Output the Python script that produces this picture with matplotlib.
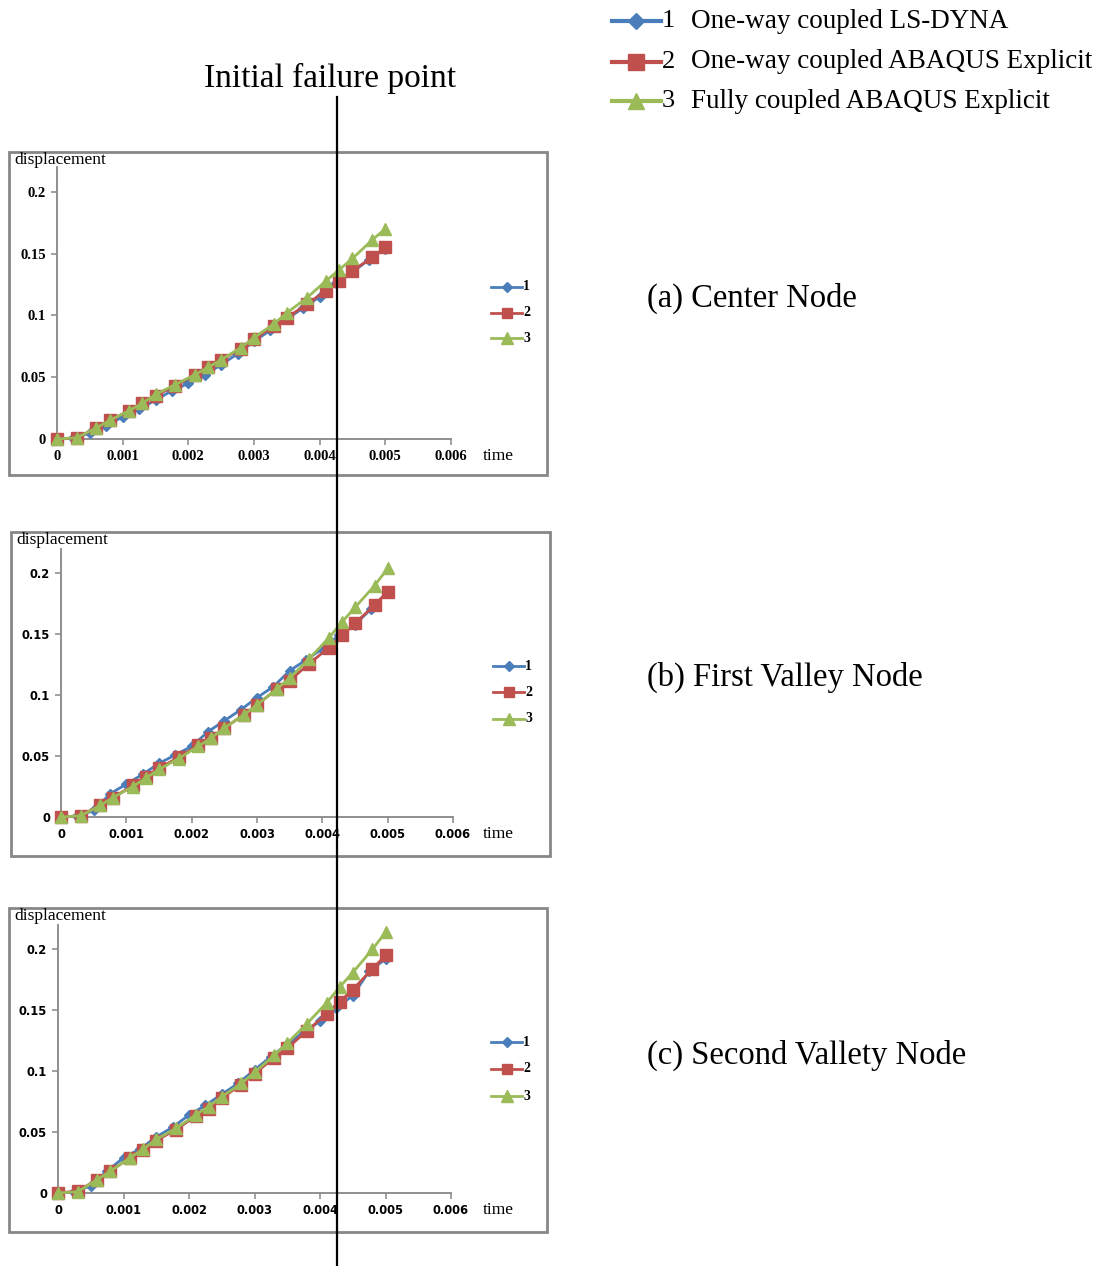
import matplotlib
matplotlib.use("Agg")
import matplotlib.pyplot as plt
from matplotlib.patches import Rectangle

# --- DATA ---
t_blue = [0, 0.00025, 0.0005, 0.00075, 0.001, 0.00125, 0.0015, 0.00175, 0.002, 0.00225, 0.0025,
          0.00275, 0.003, 0.00325, 0.0035, 0.00375, 0.004, 0.00425, 0.0045, 0.00475, 0.005]
t_abq = [0, 0.0003, 0.0006, 0.0008, 0.0011, 0.0013, 0.0015, 0.0018, 0.0021, 0.0023, 0.0025,
         0.0028, 0.003, 0.0033, 0.0035, 0.0038, 0.0041, 0.0043, 0.0045, 0.0048, 0.005]

# (a) Center Node
a_lsdyna = [0, 0.0005, 0.005, 0.0105, 0.018, 0.024, 0.0315, 0.039, 0.045, 0.052, 0.060,
            0.069, 0.079, 0.088, 0.097, 0.106, 0.115, 0.126, 0.135, 0.145, 0.154]
a_oneway = [0, 0.001, 0.009, 0.015, 0.023, 0.029, 0.035, 0.043, 0.052, 0.058, 0.064,
            0.073, 0.081, 0.091, 0.098, 0.109, 0.120, 0.128, 0.136, 0.147, 0.155]
a_fully = [0, 0.001, 0.009, 0.015, 0.023, 0.029, 0.036, 0.044, 0.052, 0.058, 0.064,
           0.074, 0.082, 0.093, 0.102, 0.114, 0.128, 0.137, 0.146, 0.161, 0.170]

# (b) First Valley Node
b_lsdyna = [0, 0.0005, 0.0054, 0.019, 0.027, 0.035, 0.044, 0.051, 0.058, 0.070, 0.079,
            0.088, 0.098, 0.107, 0.120, 0.129, 0.138, 0.149, 0.158, 0.171, 0.185]
b_oneway = [0, 0.001, 0.010, 0.016, 0.026, 0.033, 0.040, 0.049, 0.059, 0.065, 0.073,
            0.084, 0.092, 0.105, 0.112, 0.126, 0.139, 0.149, 0.159, 0.174, 0.185]
b_fully = [0, 0.001, 0.0095, 0.016, 0.025, 0.032, 0.039, 0.048, 0.058, 0.065, 0.073,
           0.084, 0.092, 0.105, 0.114, 0.130, 0.147, 0.160, 0.172, 0.190, 0.204]

# (c) Second Valley Node
c_lsdyna = [0, 0.0008, 0.006, 0.018, 0.029, 0.036, 0.046, 0.054, 0.064, 0.072, 0.081,
            0.090, 0.101, 0.112, 0.122, 0.132, 0.141, 0.152, 0.162, 0.182, 0.192]
c_oneway = [0, 0.0016, 0.011, 0.018, 0.029, 0.035, 0.043, 0.052, 0.063, 0.069, 0.078,
            0.089, 0.098, 0.111, 0.119, 0.133, 0.147, 0.157, 0.167, 0.184, 0.195]
c_fully = [0, 0.001, 0.011, 0.018, 0.029, 0.036, 0.044, 0.053, 0.064, 0.071, 0.079,
           0.090, 0.099, 0.113, 0.123, 0.139, 0.156, 0.169, 0.181, 0.200, 0.214]

series_names = ["One-way coupled LS-DYNA", "One-way coupled ABAQUS Explicit",
                "Fully coupled ABAQUS Explicit"]
panel_titles = ["(a) Center Node", "(b) First Valley Node", "(c) Second Vallety Node"]
x_ticks = [0, 0.001, 0.002, 0.003, 0.004, 0.005, 0.006]
x_ticklabels = ["0", "0.001", "0.002", "0.003", "0.004", "0.005", "0.006"]
y_ticks = [0, 0.05, 0.1, 0.15, 0.2]
y_ticklabels = ["0", "0.05", "0.1", "0.15", "0.2"]

# --- STYLE ---
W, H = 1098, 1266
BLUE, RED, GREEN = "#4A7EBB", "#C0504D", "#9BBB59"
GRAY = "#878787"
SERIF = ["Liberation Serif", "DejaVu Serif"]
styles = [dict(color=BLUE, marker="D", ms=5.5),
          dict(color=RED, marker="s", ms=8),
          dict(color=GREEN, marker="^", ms=8.5)]

fig = plt.figure(figsize=(W / 100, H / 100), dpi=100)

# pixel layout of each panel: frame (x0, y0, x1, y1), axes (left, right, zero-y, top-y)
frames = [(9, 152, 547, 475), (11, 532, 550, 856), (9, 908, 547, 1232)]
axes_px = [(57, 451, 439, 167), (61, 453, 817, 549), (58, 451, 1193, 925)]
legend_y = [(287, 313, 338), (666, 692, 719), (1042, 1069, 1096)]
legend_x = [491, 493, 491]
title_y = [298, 677, 1055]

panels = [(a_lsdyna, a_oneway, a_fully), (b_lsdyna, b_oneway, b_fully),
          (c_lsdyna, c_oneway, c_fully)]

for i, data in enumerate(panels):
    l, r, b, t = axes_px[i]
    ax = fig.add_axes([l / W, 1 - b / H, (r - l) / W, (b - t) / H])
    ax.patch.set_alpha(0)
    times = [t_blue, t_abq, t_abq]
    for k in range(3):
        st = styles[k]
        ax.plot(times[k], data[k], color=st["color"], lw=2.0, marker=st["marker"],
                ms=st["ms"], mec=st["color"], mfc=st["color"], clip_on=False, zorder=3 + k)
    ax.set_xlim(0, 0.006)
    ax.set_ylim(0, 0.22)
    ax.set_xticks(x_ticks)
    ax.set_xticklabels(x_ticklabels)
    ax.set_yticks(y_ticks)
    ax.set_yticklabels(y_ticklabels)
    for s in ["top", "right"]:
        ax.spines[s].set_visible(False)
    for s in ["left", "bottom"]:
        ax.spines[s].set_color(GRAY)
        ax.spines[s].set_linewidth(1.3)
    ax.tick_params(colors=GRAY, length=4, width=1.1, labelcolor="black", pad=4)
    fam = SERIF if i == 0 else ["DejaVu Sans"]
    for lab in ax.get_xticklabels() + ax.get_yticklabels():
        lab.set_fontfamily(fam)
        lab.set_fontweight("bold")
        lab.set_fontsize(10.5 if i == 0 else 8.3)

# overlay in pixel coordinates for frames, annotations and legends
ov = fig.add_axes([0, 0, 1, 1])
ov.set_xlim(0, W)
ov.set_ylim(H, 0)
ov.axis("off")
ov.patch.set_alpha(0)

for i in range(3):
    x0, y0, x1, y1 = frames[i]
    ov.add_patch(Rectangle((x0, y0), x1 - x0, y1 - y0, fill=False, ec=GRAY, lw=2))
    l, r, b, t = axes_px[i]
    ov.text(x0 + 5, y0 + 8, "displacement", family=SERIF, fontsize=12.5, va="center", ha="left")
    ov.text(483, b + 17, "time", family=SERIF, fontsize=12.5, va="center", ha="left")
    lx = legend_x[i]
    for k in range(3):
        st = styles[k]
        y = legend_y[i][k]
        ov.plot([lx, lx + 31], [y, y], color=st["color"], lw=2.0)
        ov.plot([lx + 15.5], [y], marker=st["marker"], color=st["color"], ms=st["ms"] - 0.5)
        ov.text(lx + 32, y, str(k + 1), family=SERIF, fontsize=10, fontweight="bold",
                va="center", ha="left")
    ov.text(647, title_y[i], panel_titles[i], family=SERIF, fontsize=23.5, va="center", ha="left")

# top legend
for k in range(3):
    st = styles[k]
    y = [21, 62, 101][k]
    ov.plot([612, 661], [y, y], color=st["color"], lw=3)
    ov.plot([636], [y], marker=st["marker"], color=st["color"], ms=st["ms"] + 3)
    ov.text(662, y, str(k + 1), family=SERIF, fontsize=19, va="center", ha="left")
    ov.text(691, y, series_names[k], family=SERIF, fontsize=19.5, va="center", ha="left")

# initial failure point marker line
ov.plot([337, 337], [97, H], color="black", lw=1.6, zorder=10)
ov.text(330, 78, "Initial failure point", family=SERIF, fontsize=24, va="center", ha="center")

fig.savefig("out.png", dpi=100)
